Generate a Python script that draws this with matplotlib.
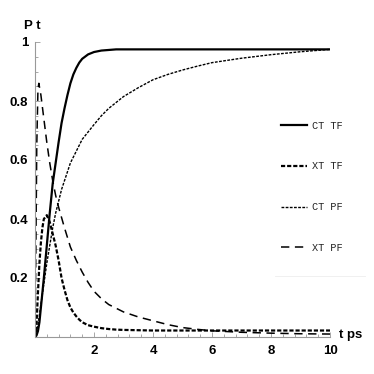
import numpy as np
import matplotlib
matplotlib.use("Agg")
import matplotlib.pyplot as plt
from matplotlib.ticker import MultipleLocator, FixedLocator
from matplotlib.lines import Line2D

plt.rcParams['lines.scale_dashes'] = False

# time axis (ps) shared by three of the curves
t = [0, 0.05, 0.1, 0.15, 0.2, 0.25, 0.3, 0.4, 0.5, 0.6, 0.7, 0.8, 0.9, 1.0,
     1.1, 1.2, 1.3, 1.4, 1.5, 1.6, 1.8, 2.0, 2.25, 2.5, 2.75, 3.0, 3.5, 4,
     4.5, 5, 5.5, 6, 7, 8, 9, 10]

ct_tf = [0, 0.005, 0.02, 0.05, 0.1, 0.15, 0.2, 0.31, 0.42, 0.52, 0.59, 0.66,
         0.725, 0.775, 0.82, 0.86, 0.89, 0.912, 0.93, 0.943, 0.958, 0.966,
         0.971, 0.973, 0.975, 0.975, 0.975, 0.975, 0.975, 0.975, 0.975,
         0.975, 0.975, 0.975, 0.975, 0.975]

xt_tf = [0, 0.04, 0.15, 0.25, 0.32, 0.37, 0.4, 0.413, 0.39, 0.35, 0.31, 0.26,
         0.2, 0.16, 0.125, 0.1, 0.083, 0.07, 0.059, 0.05, 0.04, 0.035, 0.03,
         0.027, 0.025, 0.024, 0.023, 0.022, 0.022, 0.022, 0.022, 0.022,
         0.022, 0.022, 0.022, 0.022]

ct_pf = [0, 0.02, 0.04, 0.075, 0.11, 0.145, 0.18, 0.25, 0.31, 0.37, 0.42,
         0.46, 0.5, 0.53, 0.56, 0.59, 0.61, 0.63, 0.65, 0.67, 0.695, 0.72,
         0.75, 0.775, 0.795, 0.815, 0.845, 0.872, 0.89, 0.905, 0.918, 0.93,
         0.945, 0.957, 0.967, 0.975]

# XT PF has a sharp early spike, so it gets its own time points
t_xpf = [0, 0.03, 0.06, 0.1, 0.13, 0.2, 0.3, 0.4, 0.5, 0.6, 0.7, 0.8, 0.9,
         1.0, 1.2, 1.4, 1.6, 1.8, 2.0, 2.25, 2.5, 3.0, 3.5, 4, 4.5, 5, 5.5,
         6, 7, 8, 9, 10]
xt_pf = [0, 0.3, 0.65, 0.84, 0.86, 0.82, 0.74, 0.66, 0.59, 0.53, 0.48, 0.44,
         0.405, 0.37, 0.305, 0.26, 0.22, 0.185, 0.155, 0.13, 0.11, 0.085,
         0.068, 0.055, 0.042, 0.032, 0.026, 0.021, 0.016, 0.013, 0.011, 0.01]

labels = ["CT TF", "XT TF", "CT PF", "XT PF"]

fig = plt.figure(figsize=(3.74, 3.74), dpi=100)
ax = fig.add_axes([35/374, 37/374, 295/374, 295/374])

ax.plot(t, ct_tf, color="black", lw=1.6, label=labels[0])
ax.plot(t, xt_tf, color="black", lw=1.6, linestyle=(0, (3, 1.4)), label=labels[1])
ax.plot(t, ct_pf, color="black", lw=1.0, linestyle=(0, (2, 1)), label=labels[2])
ax.plot(t_xpf, xt_pf, color="black", lw=1.1, linestyle=(0, (6, 4)), label=labels[3])

ax.set_xlim(0, 10)
ax.set_ylim(0, 1)
for s in ["top", "right"]:
    ax.spines[s].set_visible(False)
for s in ["left", "bottom"]:
    ax.spines[s].set_color("#999999")
    ax.spines[s].set_linewidth(0.8)

ax.xaxis.set_major_locator(FixedLocator([2, 4, 6, 8, 10]))
ax.xaxis.set_minor_locator(MultipleLocator(0.4))
ax.yaxis.set_major_locator(FixedLocator([0.2, 0.4, 0.6, 0.8, 1.0]))
ax.yaxis.set_minor_locator(MultipleLocator(0.05))
ax.set_yticklabels(["0.2", "0.4", "0.6", "0.8", "1"])
ax.tick_params(which="both", direction="in", color="#999999", width=0.6)
ax.tick_params(which="major", length=3.5)
ax.tick_params(which="minor", length=2)
ax.tick_params(axis="x", pad=6)
ax.tick_params(axis="y", pad=5)
for lab in ax.get_xticklabels() + ax.get_yticklabels():
    lab.set_fontfamily("Liberation Sans")
    lab.set_fontweight("bold")
    lab.set_fontsize(9.5)

fig.text(32.5/374, 1 - 26/374, "P t", ha="center", va="center",
         fontfamily="Liberation Sans", fontweight="bold", fontsize=9.5)
fig.text(351/374, 1 - 335/374, "t ps", ha="center", va="center",
         fontfamily="Liberation Sans", fontweight="bold", fontsize=9.5)

leg = ax.legend(loc="center left", bbox_to_anchor=(0.834, 0.509),
                frameon=False, borderpad=0, borderaxespad=0,
                handlelength=2.5, handletextpad=0.55, labelspacing=3.0,
                prop={"family": "Liberation Mono", "size": 7.4})
for txt in leg.get_texts():
    txt.set_color("#222222")

fig.add_artist(Line2D([275/374, 365/374], [1 - 276/374, 1 - 276/374],
                      color="#eeeeee", lw=0.6))

fig.savefig("out.png", dpi=100)
